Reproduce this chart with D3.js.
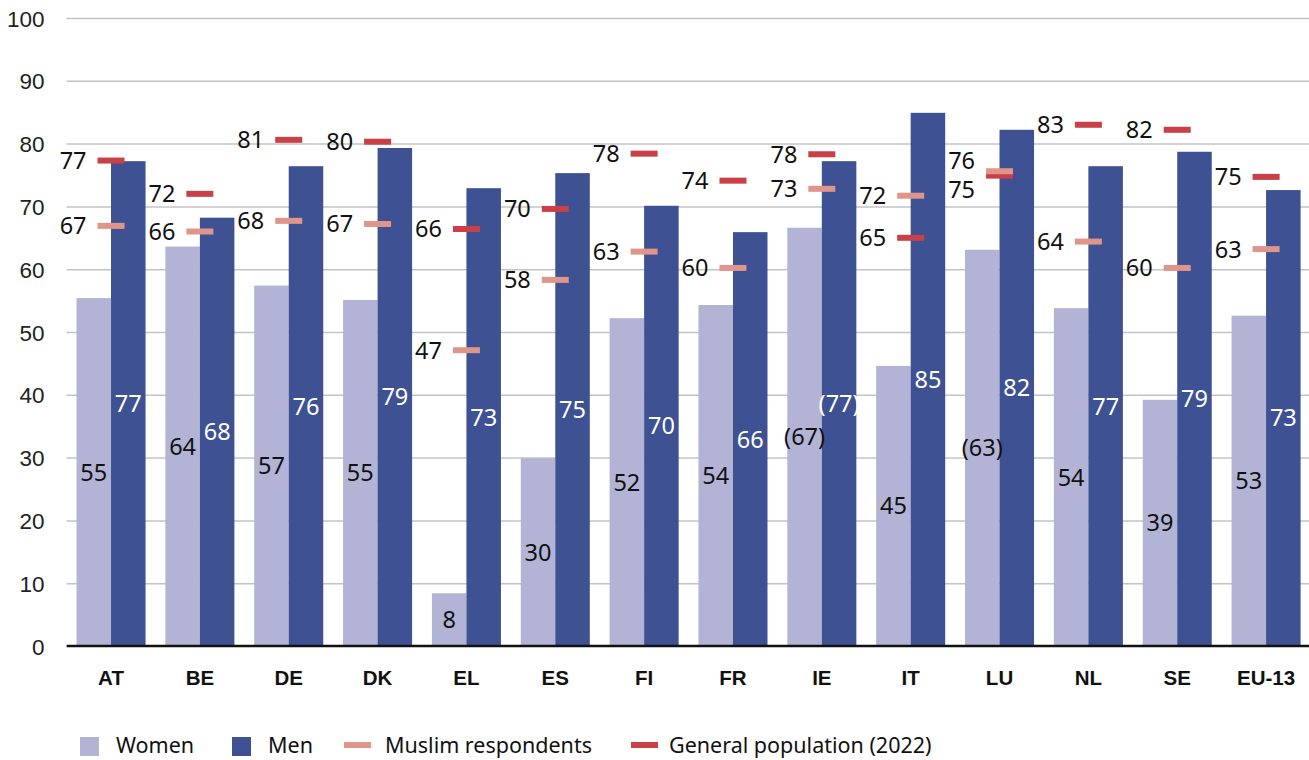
<!DOCTYPE html>
<html>
<head>
<meta charset="utf-8">
<script src="https://cdn.jsdelivr.net/npm/d3@7"></script>
<style>
  body { margin: 0; background: #fff; }
  svg { font-family: "Noto Sans", "Open Sans", sans-serif; }
  .grid line { stroke: #c4c4c4; stroke-width: 1.5; }
  .grid path { display: none; }
  .grid text { fill: #222; font-size: 22.5px; }
  .xaxis path, .xaxis line { display: none; }
  .xaxis text { fill: #111; font-size: 20.5px; font-weight: 600; }
  .val { font-size: 23.5px; }
  .legend text { font-size: 21.5px; fill: #111; }
</style>
</head>
<body>
<div id="chart"></div>
<script>
// data
var categories = ["AT", "BE", "DE", "DK", "EL", "ES", "FI", "FR", "IE", "IT", "LU", "NL", "SE", "EU-13"];
var women   = [55.4, 63.6, 57.4, 55.1, 8.4, 29.9, 52.2, 54.3, 66.6, 44.6, 63.1, 53.8, 39.2, 52.6];
var men     = [77.2, 68.2, 76.4, 79.3, 72.9, 75.3, 70.1, 65.9, 77.2, 84.9, 82.2, 76.4, 78.7, 72.6];
var muslim  = [66.9, 66.0, 67.7, 67.2, 47.1, 58.3, 62.8, 60.2, 72.8, 71.7, 75.6, 64.4, 60.2, 63.2];
var general = [77.3, 72.0, 80.6, 80.3, 66.4, 69.6, 78.4, 74.1, 78.3, 65.0, 74.9, 83.0, 82.2, 74.7];
var womenLabels = ["55", "64", "57", "55", "8", "30", "52", "54", "(67)", "45", "(63)", "54", "39", "53"];
var menLabels   = ["77", "68", "76", "79", "73", "75", "70", "66", "(77)", "85", "82", "77", "79", "73"];
var yTicks = [0, 10, 20, 30, 40, 50, 60, 70, 80, 90, 100];
var legendItems = ["Women", "Men", "Muslim respondents", "General population (2022)"];

function drawChart() {

    var colors = { women: "#b3b4d5", men: "#3d5193", muslim: "#e0958a", general: "#c94046" };

    var width = 1309, height = 760;
    var plotLeft = 66.6, plotRight = 1310.5, plotTop = 18, plotBottom = 646;

    var svg = d3.select("#chart").append("svg")
        .attr("width", width)
        .attr("height", height);

    var x = d3.scaleBand()
        .domain(categories)
        .range([plotLeft, plotRight])
        .paddingInner(0.223)
        .paddingOuter(0.1115);

    var sub = d3.scaleBand()
        .domain(["women", "men"])
        .range([0, x.bandwidth()]);

    var y = d3.scaleLinear()
        .domain([0, 100])
        .range([plotBottom, plotTop]);

    // gridlines + y labels
    var grid = svg.append("g")
        .attr("class", "grid")
        .attr("transform", "translate(" + plotLeft + ",0)")
        .call(d3.axisLeft(y)
            .tickValues(yTicks)
            .tickSize(-(width - plotLeft))
            .tickPadding(22));
    grid.selectAll("text").attr("dy", "0.36em");
    grid.selectAll(".tick").filter(function (d) { return d === 0; }).select("line").attr("stroke-opacity", 0);

    var rows = categories.map(function (c, i) {
        return { cat: c, women: women[i], men: men[i], muslim: muslim[i], general: general[i],
                 wl: womenLabels[i], ml: menLabels[i] };
    });

    var groups = svg.append("g").selectAll("g")
        .data(rows)
        .enter().append("g")
        .attr("transform", function (d) { return "translate(" + x(d.cat) + ",0)"; });

    groups.append("rect")
        .attr("x", sub("women"))
        .attr("y", function (d) { return y(d.women); })
        .attr("width", sub.bandwidth())
        .attr("height", function (d) { return y(0) - y(d.women); })
        .attr("fill", colors.women);

    groups.append("rect")
        .attr("x", sub("men"))
        .attr("y", function (d) { return y(d.men); })
        .attr("width", sub.bandwidth())
        .attr("height", function (d) { return y(0) - y(d.men); })
        .attr("fill", colors.men);

    groups.append("text")
        .attr("class", "val")
        .attr("x", sub("women") + sub.bandwidth() / 2)
        .attr("y", function (d) { return y(d.women / 2); })
        .attr("dy", "0.36em")
        .attr("text-anchor", "middle")
        .attr("fill", "#111")
        .text(function (d) { return d.wl; });

    groups.append("text")
        .attr("class", "val")
        .attr("x", sub("men") + sub.bandwidth() / 2)
        .attr("y", function (d) { return y(d.men / 2); })
        .attr("dy", "0.36em")
        .attr("text-anchor", "middle")
        .attr("fill", "#fff")
        .text(function (d) { return d.ml; });

    // x axis line
    svg.append("line")
        .attr("x1", plotLeft).attr("x2", width)
        .attr("y1", y(0)).attr("y2", y(0))
        .attr("stroke", "#111")
        .attr("stroke-width", 2.5);

    svg.append("g")
        .attr("class", "xaxis")
        .attr("transform", "translate(0," + y(0) + ")")
        .call(d3.axisBottom(x).tickSize(0).tickPadding(24));

    // markers
    var markW = 27, markH = 6;
    var cx = x.bandwidth() / 2;

    function markerLabelShift(d, key) {
        // separate labels when the two markers nearly coincide
        if (Math.abs(d.muslim - d.general) >= 3) return 0;
        var other = key === "muslim" ? d.general : d.muslim;
        return d[key] >= other ? -11 : 13.5;
    }

    ["general", "muslim"].forEach(function (key) {
        groups.append("rect")
            .attr("x", cx - markW / 2)
            .attr("y", function (d) { return y(d[key]) - markH / 2; })
            .attr("width", markW)
            .attr("height", markH)
            .attr("fill", colors[key]);

        groups.append("text")
            .attr("class", "val")
            .attr("x", cx - markW / 2 - 11)
            .attr("y", function (d) { return y(d[key]) + markerLabelShift(d, key); })
            .attr("dy", "0.36em")
            .attr("text-anchor", "end")
            .attr("fill", "#111")
            .text(function (d) { return Math.round(d[key]); });
    });

    // legend
    var legendX = [80, 232, 344, 631];
    var textOffset = [36, 36, 41, 38];
    var lg = svg.append("g").attr("class", "legend");
    legendItems.forEach(function (name, i) {
        var g = lg.append("g").attr("transform", "translate(" + legendX[i] + ",745)");
        if (i < 2) {
            g.append("rect").attr("x", 0).attr("y", -8).attr("width", 19).attr("height", 19)
                .attr("fill", i === 0 ? colors.women : colors.men);
        } else {
            g.append("rect").attr("x", 0).attr("y", -3).attr("width", 27).attr("height", 6)
                .attr("fill", i === 2 ? colors.muslim : colors.general);
        }
        g.append("text").attr("x", textOffset[i]).attr("dy", "0.36em").text(name);
    });
}

drawChart();
</script>
</body>
</html>
